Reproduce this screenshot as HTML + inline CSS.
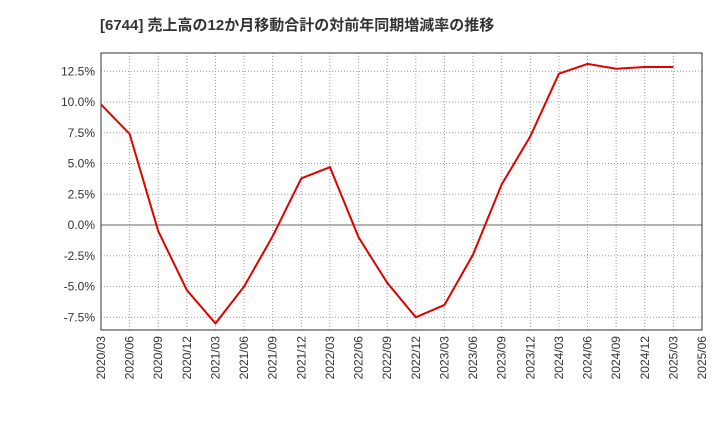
<!DOCTYPE html>
<html><head><meta charset="utf-8"><style>
body{margin:0;background:#fff;}
svg text{font-family:"Liberation Sans","Noto Sans CJK JP",sans-serif;}
</style></head><body>
<svg id="chart" width="720" height="440" xmlns="http://www.w3.org/2000/svg">
<text x="100" y="30" font-size="15" font-weight="bold" fill="#333">[6744]  売上高の12か月移動合計の対前年同期増減率の推移</text>
<g id="grid"></g>
<g id="axes"></g>
<g id="series"></g>
</svg>
<script>
const categories=["2020/03","2020/06","2020/09","2020/12","2021/03","2021/06","2021/09","2021/12","2022/03","2022/06","2022/09","2022/12","2023/03","2023/06","2023/09","2023/12","2024/03","2024/06","2024/09","2024/12","2025/03","2025/06"];
const values=[9.8,7.4,-0.5,-5.3,-8.0,-5.0,-0.9,3.8,4.7,-1.0,-4.7,-7.5,-6.5,-2.4,3.3,7.2,12.3,13.1,12.7,12.85,12.85];
const yTicks=[12.5,10,7.5,5,2.5,0,-2.5,-5,-7.5];
const L=101,R=702,T=53,B=330;
const yMin=-8.6,yMax=14.0;
const ns="http://www.w3.org/2000/svg";
const x=i=>L+(R-L)*i/(categories.length-1);
const y=v=>225-(v*30.75/2.5);
function mk(tag,attrs,parent){const e=document.createElementNS(ns,tag);for(const k in attrs)e.setAttribute(k,attrs[k]);document.getElementById(parent).appendChild(e);return e;}
mk('rect',{x:L,y:T,width:R-L,height:B-T,fill:'#fff',stroke:'none'},'grid');
yTicks.forEach(t=>{
 const g=mk('line',{x1:L,x2:R,y1:y(t),y2:y(t),stroke:t===0?'#666':'#999','stroke-dasharray':t===0?'':'1,2','stroke-width':1},'grid');
 
 
 const tx=mk('text',{x:L-6,y:y(t)+4,'text-anchor':'end','font-size':12,fill:'#333'},'axes');
 tx.textContent=t.toFixed(1)+'%';
 
 
});
categories.forEach((c,i)=>{
 if(i>0&&i<categories.length-1){const g=mk('line',{x1:x(i),x2:x(i),y1:T,y2:B,stroke:'#999','stroke-dasharray':'1,2'},'grid');
 
 }
 const tx=mk('text',{x:0,y:0,'text-anchor':'end','font-size':12,fill:'#333',transform:`translate(${x(i)+4},${B+6}) rotate(-90)`},'axes');
 tx.textContent=c;
 
 
});
const fr=mk('rect',{x:L,y:T,width:R-L,height:B-T,fill:'none',stroke:'#333'},'axes');


const pl=mk('polyline',{points:values.map((v,i)=>x(i)+','+y(v)).join(' '),fill:'none',stroke:'#e00000','stroke-width':2},'series');


</script>
</body></html>
